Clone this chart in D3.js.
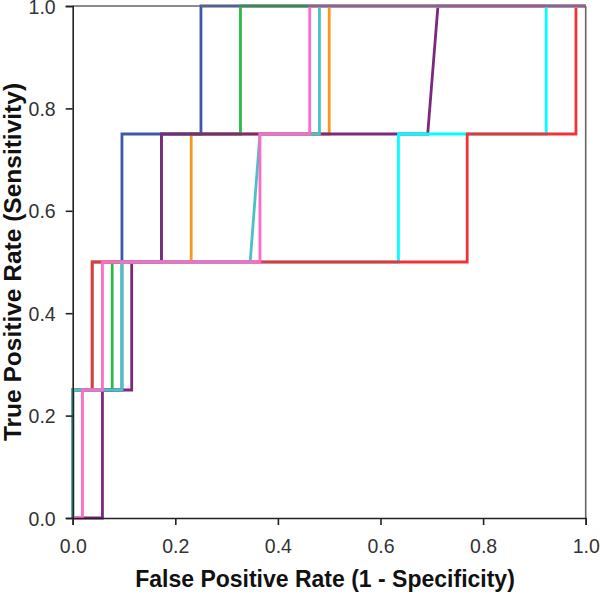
<!DOCTYPE html>
<html>
<head>
<meta charset="utf-8">
<script src="https://cdn.jsdelivr.net/npm/d3@7"></script>
<style>
  html, body { margin: 0; padding: 0; background: #fff; }
  svg { display: block; }
  text { font-family: "Liberation Sans", Arial, sans-serif; }
</style>
</head>
<body>
<svg id="chart" width="600" height="593"></svg>
<script>
// ---- data ----
const tickValues = [0, 0.2, 0.4, 0.6, 0.8, 1.0];
const xTitle = "False Positive Rate (1 - Specificity)";
const yTitle = "True Positive Rate (Sensitivity)";

const orangeFPR = [0, 0, 0.038, 0.038, 0.231, 0.231, 0.500, 0.500, 1];
const orangeTPR = [0, 0.25, 0.25, 0.5, 0.5, 0.75, 0.75, 1, 1];
const blueFPR   = [0, 0, 0.096, 0.096, 0.250, 0.250, 1];
const blueTPR   = [0, 0.25, 0.25, 0.75, 0.75, 1, 1];
const greenFPR  = [0, 0, 0.077, 0.077, 0.173, 0.173, 0.327, 0.327, 1];
const greenTPR  = [0, 0.25, 0.25, 0.5, 0.5, 0.75, 0.75, 1, 1];
const purpleFPR = [0, 0.058, 0.058, 0.115, 0.115, 0.173, 0.173, 0.692, 0.712, 1];
const purpleTPR = [0, 0, 0.25, 0.25, 0.5, 0.5, 0.75, 0.75, 1, 1];
const cyanFPR   = [0, 0, 0.038, 0.038, 0.635, 0.635, 0.923, 0.923, 1];
const cyanTPR   = [0, 0.25, 0.25, 0.5, 0.5, 0.75, 0.75, 1, 1];
const redFPR    = [0, 0, 0.038, 0.038, 0.769, 0.769, 0.981, 0.981, 1];
const redTPR    = [0, 0.25, 0.25, 0.5, 0.5, 0.75, 0.75, 1, 1];
const tealFPR   = [0, 0, 0.096, 0.096, 0.346, 0.365, 0.481, 0.481, 1];
const tealTPR   = [0, 0.25, 0.25, 0.5, 0.5, 0.75, 0.75, 1, 1];
const pinkFPR   = [0, 0.019, 0.019, 0.058, 0.058, 0.365, 0.365, 0.462, 0.462, 1];
const pinkTPR   = [0, 0, 0.25, 0.25, 0.5, 0.5, 0.75, 0.75, 1, 1];

// draw order (later ones on top)
const seriesNames = ["orange", "blue", "green", "purple", "cyan", "red", "teal", "pink"];
const seriesFPR = [orangeFPR, blueFPR, greenFPR, purpleFPR, cyanFPR, redFPR, tealFPR, pinkFPR];
const seriesTPR = [orangeTPR, blueTPR, greenTPR, purpleTPR, cyanTPR, redTPR, tealTPR, pinkTPR];
const seriesColors = ["#F8981D", "#3E58AC", "#2EB848", "#7C287D", "#00FFFF", "#EF3338", "#48C2C5", "#FF6AC8"];

// ---- layout ----
const svg = d3.select("#chart");
const mLeft = 72.7, mRight = 585.7, mTop = 6, mBottom = 518;

const x = d3.scaleLinear().domain([0, 1]).range([mLeft, mRight]);
const y = d3.scaleLinear().domain([0, 1]).range([mBottom, mTop]);

const line = d3.line().x(d => x(d[0])).y(d => y(d[1]));

// curves
const g = svg.append("g");
seriesNames.forEach((name, i) => {
  const pts = seriesFPR[i].map((f, j) => [f, seriesTPR[i][j]]);
  g.append("path")
    .datum(pts)
    .attr("class", "roc-" + name)
    .attr("fill", "none")
    .attr("stroke", seriesColors[i])
    .attr("stroke-width", 2.8)
    .attr("stroke-linejoin", "miter")
    .attr("d", line);
});

// frame (top/right)
svg.append("line").attr("x1", mLeft).attr("x2", mRight).attr("y1", mTop).attr("y2", mTop)
  .attr("stroke", "#666").attr("stroke-width", 1.6);
svg.append("line").attr("x1", mRight).attr("x2", mRight).attr("y1", mTop).attr("y2", mBottom)
  .attr("stroke", "#666").attr("stroke-width", 1.6);

// axes
const xAxis = d3.axisBottom(x).tickValues(tickValues).tickFormat(d3.format(".1f")).tickSizeOuter(0).tickSize(7).tickPadding(14);
const yAxis = d3.axisLeft(y).tickValues(tickValues).tickFormat(d3.format(".1f")).tickSizeOuter(0).tickSize(7).tickPadding(10);

const gx = svg.append("g").attr("transform", `translate(0,${mBottom})`).call(xAxis);
const gy = svg.append("g").attr("transform", `translate(${mLeft},0)`).call(yAxis);

[gx, gy].forEach(ax => {
  ax.select(".domain").attr("stroke", "#222").attr("stroke-width", 1.6);
  ax.selectAll(".tick line").attr("stroke", "#222").attr("stroke-width", 1.6);
  ax.selectAll(".tick text").attr("fill", "#333").style("font-size", "19.5px")
    .style("font-family", '"Liberation Sans", Arial, sans-serif');
});
gy.selectAll(".tick text").attr("dy", "0.36em");

// titles
svg.append("text")
  .attr("x", 325).attr("y", 587)
  .attr("text-anchor", "middle")
  .style("font-size", "23px").style("font-weight", "bold").attr("fill", "#111")
  .text(xTitle);

svg.append("text")
  .attr("transform", `translate(21,${262}) rotate(-90)`)
  .attr("text-anchor", "middle")
  .style("font-size", "24.5px").style("font-weight", "bold").attr("fill", "#111")
  .text(yTitle);
</script>
</body>
</html>
